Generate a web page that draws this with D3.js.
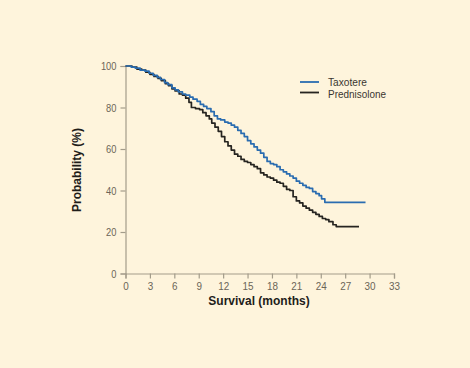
<!DOCTYPE html>
<html>
<head>
<meta charset="utf-8">
<script src="https://cdn.jsdelivr.net/npm/d3@7"></script>
<style>
  body { margin: 0; background: #fef4dc; }
  svg { display: block; }
  .tick text { font-family: "Liberation Sans", Arial, sans-serif; font-size: 11px; fill: #6b6558; }
</style>
</head>
<body>
<svg id="chart" width="470" height="368"></svg>
<script>
// Kaplan-Meier step points: [months, survival %]
const taxotere = [
  [0, 100], [0.7, 99.5], [1.2, 99], [1.8, 98], [2.4, 97.5], [2.9, 96.5], [3.4, 95.5],
  [3.9, 94.5], [4.3, 93.5], [4.8, 92], [5.2, 91], [5.7, 89.5], [6.1, 88.5], [6.5, 87.5],
  [7.0, 86.5], [7.4, 86], [7.9, 85], [8.3, 84], [8.8, 83], [9.2, 81.5], [9.6, 80.5],
  [10.0, 79.5], [10.5, 78], [10.9, 76], [11.3, 74.5], [11.7, 74], [12.2, 73], [12.6, 72.5],
  [13.0, 71.5], [13.4, 70.5], [13.8, 69], [14.2, 67.5], [14.6, 66], [15.0, 64], [15.4, 62.5],
  [15.8, 61], [16.2, 59.5], [16.6, 58], [17.0, 56], [17.4, 54], [17.8, 53], [18.2, 52.5],
  [18.6, 51.5], [19.0, 50], [19.4, 49], [19.8, 48], [20.2, 47], [20.6, 46], [21.0, 44.5],
  [21.4, 43.5], [21.8, 42.5], [22.2, 41.5], [22.6, 41], [23.0, 39.5], [23.4, 38.5],
  [23.8, 37.5], [24.1, 36], [24.5, 34.3], [29.5, 34.3]
]
const prednisolone = [
  [0, 100], [0.8, 99.5], [1.4, 98.5], [2.0, 98], [2.5, 97], [3.0, 96], [3.5, 95], [4.0, 94],
  [4.4, 93], [4.9, 91.5], [5.3, 90.5], [5.7, 89], [6.1, 88], [6.6, 86.5], [7.0, 86], [7.4, 84.5],
  [7.8, 82.5], [8.1, 80], [8.6, 79.5], [9.1, 79], [9.5, 77.5], [9.9, 76], [10.3, 74.5],
  [10.6, 72.5], [11.0, 70.5], [11.4, 68.5], [11.8, 66], [12.2, 63.5], [12.6, 61.5], [13.0, 59.5],
  [13.4, 57.5], [13.8, 56.5], [14.2, 55], [14.6, 54], [15.0, 53.5], [15.4, 52.5], [15.8, 51.5],
  [16.2, 50.5], [16.6, 48.5], [17.0, 47.5], [17.4, 46.5], [17.8, 46], [18.2, 45], [18.6, 44],
  [19.0, 43.5], [19.4, 42], [19.8, 40.5], [20.2, 40], [20.6, 37], [21.0, 35], [21.4, 34],
  [21.8, 32.5], [22.2, 31.5], [22.6, 30.5], [23.0, 29.5], [23.4, 28.5], [23.8, 27.5],
  [24.2, 26.5], [24.6, 26], [25.0, 25], [25.5, 23.5], [25.9, 22.6], [28.7, 22.6]
]
const xTicks = [0, 3, 6, 9, 12, 15, 18, 21, 24, 27, 30, 33]
const yTicks = [0, 20, 40, 60, 80, 100]
const seriesNames = ['Taxotere', 'Prednisolone']
const seriesColors = ['#2a6cb0', '#262420']

const svg = d3.select('#chart')
const x = d3.scaleLinear().domain([0, 33]).range([125.5, 394])
const y = d3.scaleLinear().domain([0, 100]).range([273.5, 66])
const axisColor = '#a39c8a'

// axes
let gx = svg.append('g')
  .attr('transform', `translate(0,${y(0)})`)
  .call(d3.axisBottom(x).tickValues(xTicks).tickSize(5).tickPadding(4))
let gy = svg.append('g')
  .attr('transform', `translate(${x(0)},0)`)
  .call(d3.axisLeft(y).tickValues(yTicks).tickSize(5).tickPadding(4))
;[gx, gy].forEach((g) => {
  g.select('.domain').attr('stroke', axisColor).attr('stroke-width', 1.2)
  g.selectAll('.tick line').attr('stroke', axisColor).attr('stroke-width', 1.2)
})
// the digits in the picture are a narrow face
gx.selectAll('.tick text').attr('transform', 'scale(0.9,1)')
  .attr('x', function () { return 0 })
gy.selectAll('.tick text').each(function () {
  let t = d3.select(this)
  t.attr('textLength', t.text().length * 5.2).attr('lengthAdjust', 'spacingAndGlyphs')
})

// curves
const line = d3.line()
  .x((d) => x(d[0]))
  .y((d) => y(d[1]))
  .curve(d3.curveStepAfter)

;[prednisolone, taxotere].forEach((data, i) => {
  svg.append('path')
    .datum(data)
    .attr('fill', 'none')
    .attr('stroke', seriesColors[1 - i])
    .attr('stroke-width', 1.7)
    .attr('stroke-linejoin', 'round')
    .attr('d', line)
})

// legend
const legendWidths = [39, 58]
let legend = svg.append('g').attr('transform', 'translate(300,82)')
seriesNames.forEach((name, i) => {
  legend.append('line')
    .attr('x1', 0).attr('x2', 19)
    .attr('y1', i * 10.5).attr('y2', i * 10.5)
    .attr('stroke', seriesColors[i])
    .attr('stroke-width', 1.8)
  legend.append('text')
    .attr('x', 28).attr('y', 4 + i * 11.5)
    .attr('textLength', legendWidths[i])
    .attr('lengthAdjust', 'spacingAndGlyphs')
    .style('font-family', '"Liberation Sans", Arial, sans-serif')
    .style('font-size', '11.5px')
    .attr('fill', '#3a3630')
    .text(name)
})

// axis titles
svg.append('text')
  .attr('x', 259).attr('y', 305)
  .attr('text-anchor', 'middle')
  .style('font-family', '"Liberation Sans", Arial, sans-serif')
  .style('font-size', '12px')
  .style('font-weight', 'bold')
  .attr('fill', '#1f1d1a')
  .text('Survival (months)')
svg.append('text')
  .attr('transform', 'translate(81,170) rotate(-90)')
  .attr('text-anchor', 'middle')
  .style('font-family', '"Liberation Sans", Arial, sans-serif')
  .style('font-size', '12px')
  .style('font-weight', 'bold')
  .attr('fill', '#1f1d1a')
  .text('Probability (%)')
</script>
</body>
</html>
